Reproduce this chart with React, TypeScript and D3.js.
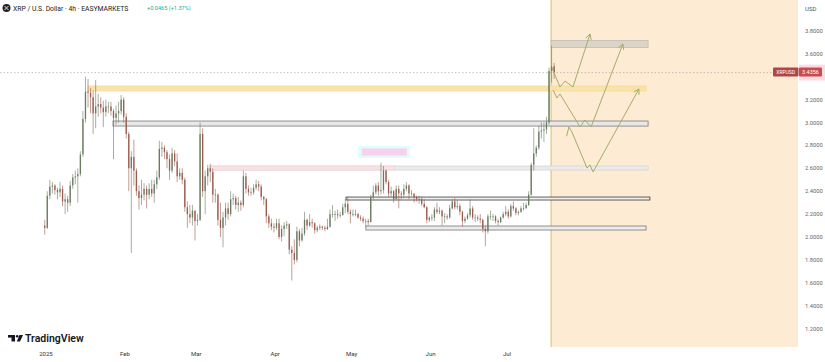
import * as d3 from "d3";
import React from "react";

// daily candles, first one is Dec 31 2024 (day offset -1 from Jan 1 2025)
const firstOpen = 2.1;
const closes = [
  2.08,
  2.36, 2.44, 2.45, 2.41, 2.39, 2.42, 2.31, 2.33, 2.3, 2.45, 2.52, 2.53, 2.55, 2.72, 3.03, 3.27,
  3.26, 3.22, 3.08, 3.14, 3.16, 3.13, 3.09, 3.14, 3.14, 3.1, 3.04, 3.08, 3.1, 3.2, 3.05,
  2.9, 2.6, 2.7, 2.58, 2.4, 2.34, 2.37, 2.42, 2.37, 2.42, 2.38, 2.46, 2.52, 2.77, 2.78, 2.74,
  2.68, 2.58, 2.73, 2.66, 2.53, 2.56, 2.5, 2.26, 2.2, 2.17, 2.23, 2.14,
  2.15, 2.9, 2.4, 2.53, 2.6, 2.57, 2.37, 2.37, 2.15, 2.08, 2.17, 2.25, 2.2, 2.33, 2.34, 2.28,
  2.3, 2.28, 2.53, 2.42, 2.39, 2.39, 2.43, 2.46, 2.44, 2.35, 2.33, 2.18, 2.12, 2.09, 2.08,
  2.12, 2.0, 2.07, 2.1, 2.11, 1.89, 1.86, 1.8, 2.05, 1.97, 2.03, 2.15, 2.1, 2.13, 2.12,
  2.06, 2.08, 2.09, 2.08, 2.07, 2.09, 2.2, 2.2, 2.2, 2.19, 2.19, 2.26, 2.29, 2.22, 2.2,
  2.2, 2.2, 2.17, 2.16, 2.14, 2.14, 2.13, 2.35, 2.39, 2.45, 2.4, 2.41, 2.58, 2.48, 2.38, 2.4,
  2.33, 2.42, 2.38, 2.37, 2.42, 2.45, 2.38, 2.38, 2.35, 2.33, 2.33, 2.29, 2.26, 2.15, 2.17,
  2.17, 2.24, 2.22, 2.23, 2.18, 2.18, 2.17, 2.25, 2.31, 2.26, 2.27, 2.22, 2.14, 2.16, 2.19,
  2.25, 2.17, 2.17, 2.16, 2.15, 2.07, 2.05, 2.18, 2.18, 2.18, 2.14, 2.13, 2.17, 2.2, 2.22,
  2.18, 2.27, 2.25, 2.21, 2.22, 2.25, 2.25, 2.28, 2.37, 2.63, 2.73, 2.78, 2.92, 2.93, 2.94,
  3.0, 3.45, 3.49, 3.44,
];
const highs = [
  2.15,
  2.4, 2.5, 2.48, 2.46, 2.43, 2.48, 2.45, 2.38, 2.36, 2.49, 2.55, 2.58, 2.6, 2.75, 3.1, 3.4,
  3.38, 3.3, 3.28, 3.37, 3.25, 3.22, 3.19, 3.2, 3.18, 3.18, 3.12, 3.15, 3.18, 3.24, 3.22,
  3.08, 2.92, 2.75, 2.85, 2.6, 2.45, 2.5, 2.47, 2.45, 2.47, 2.5, 2.5, 2.58, 2.84, 2.83, 2.8,
  2.76, 2.72, 2.78, 2.76, 2.73, 2.6, 2.6, 2.52, 2.31, 2.28, 2.28, 2.23,
  2.2, 3.0, 2.95, 2.58, 2.63, 2.64, 2.6, 2.42, 2.38, 2.3, 2.22, 2.3, 2.3, 2.4, 2.38, 2.36,
  2.35, 2.32, 2.58, 2.56, 2.45, 2.43, 2.46, 2.5, 2.49, 2.46, 2.36, 2.34, 2.2, 2.16, 2.12,
  2.16, 2.16, 2.1, 2.13, 2.14, 2.12, 1.92, 1.98, 2.09, 2.07, 2.08, 2.22, 2.16, 2.2, 2.16,
  2.13, 2.1, 2.11, 2.1, 2.1, 2.16, 2.24, 2.28, 2.23, 2.24, 2.22, 2.29, 2.33, 2.35, 2.24,
  2.24, 2.24, 2.21, 2.19, 2.18, 2.16, 2.16, 2.37, 2.45, 2.47, 2.48, 2.65, 2.62, 2.59, 2.5, 2.44,
  2.41, 2.45, 2.45, 2.4, 2.46, 2.48, 2.46, 2.41, 2.38, 2.36, 2.36, 2.35, 2.33, 2.27, 2.18,
  2.2, 2.26, 2.3, 2.26, 2.24, 2.21, 2.2, 2.28, 2.33, 2.34, 2.32, 2.29, 2.23, 2.18, 2.21,
  2.33, 2.27, 2.2, 2.19, 2.2, 2.16, 2.1, 2.2, 2.23, 2.2, 2.19, 2.16, 2.18, 2.22, 2.27,
  2.24, 2.29, 2.31, 2.26, 2.23, 2.27, 2.3, 2.3, 2.4, 2.65, 2.95, 2.8, 2.97, 3.0, 3.0,
  3.05, 3.48, 3.67, 3.52,
];
const lows = [
  2.02,
  2.07, 2.33, 2.38, 2.37, 2.33, 2.35, 2.27, 2.2, 2.22, 2.27, 2.42, 2.46, 2.3, 2.53, 2.7, 3.0,
  3.13, 3.08, 2.9, 2.95, 3.05, 3.08, 2.96, 3.05, 3.08, 3.06, 2.68, 2.98, 3.0, 3.07, 3.0,
  2.86, 2.4, 1.86, 2.45, 2.36, 2.24, 2.28, 2.32, 2.25, 2.33, 2.35, 2.3, 2.42, 2.5, 2.7, 2.68,
  2.6, 2.5, 2.56, 2.62, 2.48, 2.5, 2.46, 2.22, 2.08, 2.12, 2.1, 1.97,
  2.1, 2.14, 2.35, 2.2, 2.45, 2.48, 2.3, 2.3, 2.1, 2.0, 1.91, 2.1, 2.15, 2.18, 2.28, 2.24,
  2.22, 2.23, 2.26, 2.38, 2.36, 2.36, 2.37, 2.41, 2.4, 2.32, 2.28, 2.12, 2.08, 2.06, 2.04,
  2.06, 1.98, 1.96, 2.01, 2.07, 1.85, 1.62, 1.76, 1.78, 1.92, 1.96, 2.01, 2.06, 2.09, 2.08,
  2.03, 2.04, 2.06, 2.06, 2.05, 2.06, 2.08, 2.17, 2.14, 2.16, 2.17, 2.19, 2.21, 2.2, 2.12,
  2.18, 2.18, 2.16, 2.14, 2.12, 2.09, 2.1, 2.13, 2.33, 2.37, 2.36, 2.37, 2.38, 2.46, 2.35, 2.35,
  2.3, 2.33, 2.25, 2.33, 2.34, 2.4, 2.33, 2.36, 2.3, 2.31, 2.29, 2.27, 2.25, 2.12, 2.13,
  2.14, 2.14, 2.2, 2.2, 2.1, 2.12, 2.15, 2.16, 2.24, 2.24, 2.24, 2.19, 2.09, 2.12, 2.15,
  2.17, 2.15, 2.13, 2.14, 2.12, 2.04, 1.92, 2.03, 2.15, 2.14, 2.12, 2.1, 2.12, 2.16, 2.18,
  2.16, 2.17, 2.23, 2.19, 2.19, 2.21, 2.23, 2.25, 2.27, 2.36, 2.58, 2.7, 2.76, 2.86, 2.83,
  2.9, 2.98, 3.35, 3.38,
];

const priceTicks = [3.8, 3.6, 3.2, 3.0, 2.8, 2.6, 2.4, 2.2, 2.0, 1.8, 1.6, 1.4, 1.2];
const monthLabels = ["2025", "Feb", "Mar", "Apr", "May", "Jun", "Jul"];
const monthStarts = [0, 31, 59, 90, 120, 151, 181];

// zones: start day, end day, top price, bottom price
const zoneStart = [198.3, 16.5, 26.3, 64.4, 117.8, 125.6];
const zoneEnd = [236.4, 235.6, 236.4, 236.4, 237.1, 235.6];
const zoneTop = [3.716, 3.319, 3.013, 2.62, 2.349, 2.096];
const zoneBottom = [3.655, 3.275, 2.969, 2.585, 2.323, 2.061];
const zoneFill = ["#ddd4c8", "#f9e3a8", "#e8e8e8", "#ebebeb", "#f1f1f1", "#ececec"];
const zoneStroke = ["#c4bbb0", "#f5dc9c", "#7a7a7a", "#d4d4d4", "#3a3a3a", "#777777"];

// projected paths: [day, price]
const pathA: [number, number][] = [[198.7, 3.476], [201.8, 3.31], [203.8, 3.362], [206.9, 3.31], [213.6, 3.773]];
const pathB: [number, number][] = [[199.1, 3.284], [200.6, 3.214], [201.8, 3.249], [209.7, 2.961], [211.6, 3.022], [214.0, 2.961], [226.5, 3.686]];
const pathC: [number, number][] = [[204.4, 2.88], [205.3, 2.961], [206.5, 2.917], [212.4, 2.603], [213.6, 2.629], [214.8, 2.568], [232.8, 3.293]];

const lastPrice = 3.4356;

const W = 825;
const H = 362;
const DAY = 864e5;
const t0 = Date.UTC(2025, 0, 1);
const day = (n: number) => new Date(t0 + n * DAY);

export default function App() {
  const x = d3.scaleUtc().domain([day(0), day(181)]).range([46, 507]);
  const y = d3.scaleLinear().domain([1.2, 3.8]).range([328.6, 30.9]);
  const xd = (n: number) => x(day(n));

  const candles = closes.map((c, i) => ({
    d: i - 1,
    o: i === 0 ? firstOpen : closes[i - 1],
    h: highs[i],
    l: lows[i],
    c,
  }));

  const line = d3
    .line<[number, number]>()
    .x((p) => xd(p[0]))
    .y((p) => y(p[1]));

  const arrowHead = (pts: [number, number][]) => {
    const a = pts[pts.length - 2];
    const b = pts[pts.length - 1];
    const bx = xd(b[0]);
    const by = y(b[1]);
    const ang = Math.atan2(by - y(a[1]), bx - xd(a[0]));
    const len = 6;
    const p1 = [bx - len * Math.cos(ang - 0.5), by - len * Math.sin(ang - 0.5)];
    const p2 = [bx - len * Math.cos(ang + 0.5), by - len * Math.sin(ang + 0.5)];
    return `M${p1[0]},${p1[1]}L${bx},${by}L${p2[0]},${p2[1]}`;
  };

  const up = "#6a7a62";
  const down = "#9a5b4e";
  const font = "Roboto, 'Noto Sans', sans-serif";
  const yLast = y(lastPrice);

  return (
    <svg
      width={W}
      height={H}
      style={{ position: "absolute", left: 0, top: 0, background: "#fff" }}
      fontFamily={font}
    >
      <rect width={W} height={H} fill="#fff" />
      {/* future zone */}
      <rect x={xd(198.3)} y={0} width={798 - xd(198.3)} height={347} fill="#fdebd3" />
      <line x1={xd(198.3)} x2={xd(198.3)} y1={0} y2={347} stroke="#cfc070" strokeWidth={1} />

      {/* price line */}
      <line x1={0} x2={774} y1={yLast} y2={yLast} stroke="#a8a8a8" strokeWidth={0.7} strokeDasharray="1.5,2" />

      {/* zones */}
      {zoneStart.map((s, i) => (
        <rect
          key={i}
          x={xd(s)}
          y={y(zoneTop[i])}
          width={xd(zoneEnd[i]) - xd(s)}
          height={y(zoneBottom[i]) - y(zoneTop[i])}
          fill={zoneFill[i]}
          stroke={zoneStroke[i]}
          strokeWidth={0.8}
        />
      ))}
      <rect
        x={xd(64.4)}
        y={y(zoneTop[3])}
        width={xd(137) - xd(64.4)}
        height={y(zoneBottom[3]) - y(zoneTop[3])}
        fill="#f8e2e6"
        stroke="#f3d0d6"
        strokeWidth={0.8}
      />

      {/* garbled label */}
      <rect x={xd(122.5)} y={146} width={52} height={12} fill="#e2fbfc" />
      <rect x={xd(124)} y={148.5} width={45} height={7} fill="#f7d2ee" />

      {/* candles */}
      <g>
        {candles.map((k, i) => {
          const cx = xd(k.d + 0.5);
          const col = k.c >= k.o ? up : down;
          const top = y(Math.max(k.o, k.c));
          const bot = y(Math.min(k.o, k.c));
          return (
            <g key={i}>
              <line x1={cx} x2={cx} y1={y(k.h)} y2={y(k.l)} stroke={col} strokeWidth={0.6} />
              <rect x={cx - 0.65} y={top} width={1.3} height={Math.max(0.7, bot - top)} fill={col} />
            </g>
          );
        })}
      </g>

      {/* projections */}
      {[pathA, pathB, pathC].map((p, i) => (
        <g key={i} fill="none" stroke="#a3ad6b" strokeWidth={1}>
          <path d={line(p) || ""} />
          <path d={arrowHead(p)} />
        </g>
      ))}

      {/* right axis */}
      <text x={805} y={11} fontSize={6} fill="#555">USD</text>
      {priceTicks.map((t) => (
        <text key={t} x={805} y={y(t) + 2} fontSize={5.8} fill="#666">
          {t.toFixed(4)}
        </text>
      ))}
      <rect x={799} y={yLast - 8} width={26} height={16} fill="#fcdce3" />
      <rect x={773} y={yLast - 5} width={25.5} height={9} fill="#b0464b" rx={1} />
      <text x={785.7} y={yLast + 1.8} fontSize={5} fill="#fff" textAnchor="middle">XRPUSD</text>
      <rect x={799} y={yLast - 5} width={23} height={9} fill="#c94a4f" rx={1} />
      <text x={810.5} y={yLast + 1.8} fontSize={5.5} fill="#fff" textAnchor="middle">
        {lastPrice.toFixed(4)}
      </text>

      {/* bottom axis */}
      {monthLabels.map((m, i) => (
        <text key={m} x={xd(monthStarts[i])} y={356} fontSize={6} fill="#333" textAnchor="middle">
          {m}
        </text>
      ))}

      {/* header */}
      <circle cx={6.5} cy={8} r={4} fill="#222" />
      <path d="M4.5,6 L8.5,10 M8.5,6 L4.5,10" stroke="#fff" strokeWidth={0.9} />
      <text x={13} y={10.5} fontSize={6.8} fill="#222">
        XRP / U.S. Dollar · 4h · EASYMARKETS
      </text>
      <text x={147} y={10.3} fontSize={5.6} fill="#22ab94">
        +0.0465 (+1.37%)
      </text>

      {/* logo */}
      <g fill="#131722">
        <rect x={8} y={335} width={7} height={2.6} />
        <rect x={11.5} y={335} width={3.5} height={6.5} />
        <circle cx={17.2} cy={336.3} r={1.3} />
        <path d="M19.5,335 L23,335 L20,341.5 L16.8,341.5 Z" />
      </g>
      <text x={25} y={342} fontSize={10.5} fontWeight={600} fill="#131722">
        TradingView
      </text>
    </svg>
  );
}
